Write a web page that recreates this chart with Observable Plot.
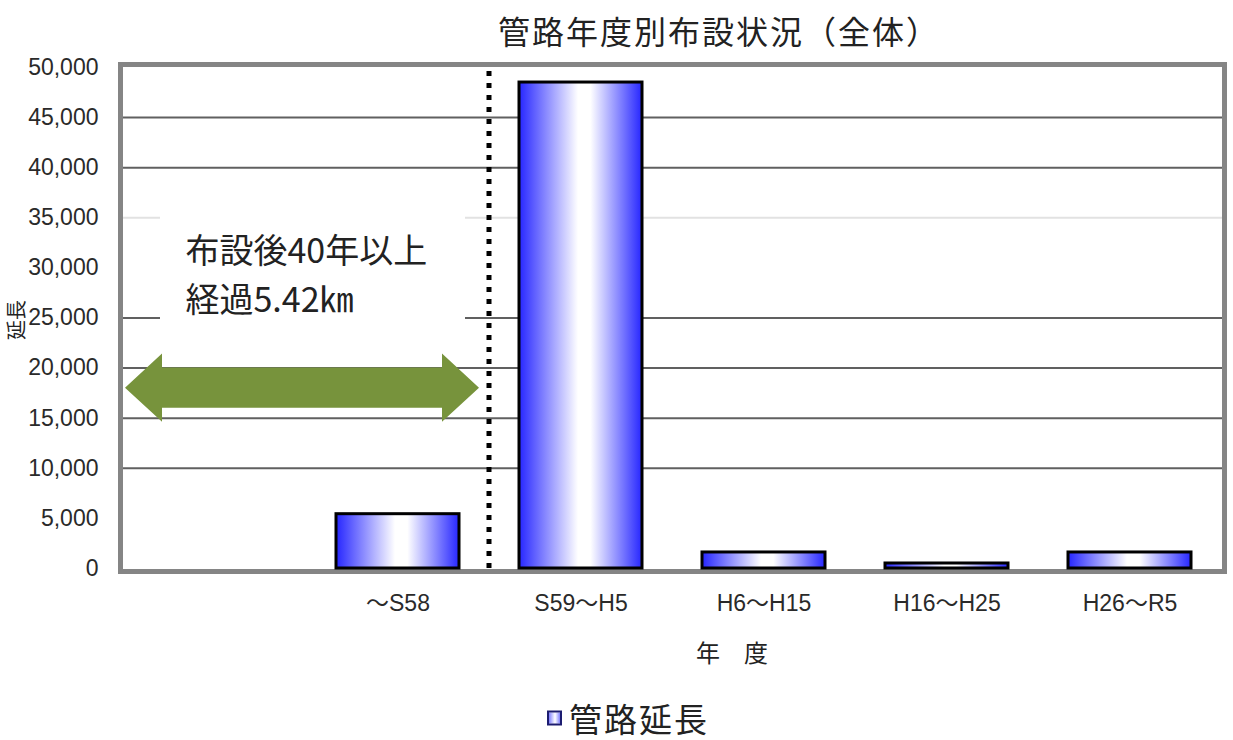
<!DOCTYPE html>
<html><head><meta charset="utf-8">
<script src="https://cdn.jsdelivr.net/npm/d3@7"></script>
<script src="https://cdn.jsdelivr.net/npm/@observablehq/plot@0.6"></script>
<style>
body{margin:0;background:#fff;}
#wrap{position:relative;width:1233px;height:740px;overflow:hidden;font-family:"Noto Sans CJK JP","Noto Sans",sans-serif;color:#222;}
#chart{position:absolute;left:0;top:0;}
.t{position:absolute;white-space:nowrap;transform:translate(-50%,-50%);line-height:1;}
#title{left:719px;top:30px;font-size:32px;letter-spacing:2px;}
#xlab{left:732px;top:652px;font-size:24px;}
#ylab{left:16px;top:320px;font-size:20px;transform:translate(-50%,-50%) rotate(-90deg);}
#legend{left:547px;top:718px;transform:translate(0,-50%);font-size:33px;letter-spacing:2px;display:flex;align-items:center;}
#legend .sw{display:inline-block;width:11px;height:11px;border:2px solid #1c1c70;margin-right:7px;background:linear-gradient(90deg,#8080ff,#ffffff 55%,#8080ff);}
</style></head><body>
<div id="wrap">
<div id="chart"></div>
<div class="t" id="title">管路年度別布設状況（全体）</div>
<div class="t" id="xlab">年　度</div>
<div class="t" id="ylab">延長</div>
<div class="t" id="legend"><span class="sw"></span>管路延長</div>
</div>
<script>
// ---- data ----
const categories = ["", "～S58", "S59～H5", "H6～H15", "H16～H25", "H26～R5"];
const barCategories = ["～S58", "S59～H5", "H6～H15", "H16～H25", "H26～R5"];
const lengths = [5420, 48500, 1600, 500, 1600];
const yTicks = [0, 5000, 10000, 15000, 20000, 25000, 30000, 35000, 40000, 45000, 50000];
const gridSolid = [10000, 15000, 20000, 25000, 40000, 45000];
const gridFaint = [35000];
const dividerBefore = "S59～H5";
const annotationLines = ["布設後40年以上", "経過5.42㎞"];
const annotationY = 29600;
const arrowY = 18000, arrowShaftHalf = 2000, arrowHeadHalf = 3400;
const boxTop = 36200, boxBottom = 23300;

const bars = barCategories.map((c, i) => ({cat: c, value: lengths[i]}));

const W = 1233, H = 740;
const mL = 122, mR = 11, mT = 67, mB = 172;

function backdrop(index, scales) {
  const {x, y} = scales;
  const step = x.step();
  const left = x.range()[0];
  const boundary = x(dividerBefore) + x.bandwidth() / 2 - step / 2;
  const g = d3.create("svg:g");
  g.append("rect")
    .attr("x", left + 38).attr("width", boundary - 24 - (left + 38))
    .attr("y", y(boxTop)).attr("height", y(boxBottom) - y(boxTop))
    .attr("fill", "#fff");
  const x0 = left + 3, x1 = boundary - 10, head = 37;
  const yc = y(arrowY), ys1 = y(arrowY + arrowShaftHalf), ys2 = y(arrowY - arrowShaftHalf);
  const yh1 = y(arrowY + arrowHeadHalf), yh2 = y(arrowY - arrowHeadHalf);
  const pts = [[x0, yc], [x0 + head, yh1], [x0 + head, ys1], [x1 - head, ys1], [x1 - head, yh1],
               [x1, yc], [x1 - head, yh2], [x1 - head, ys2], [x0 + head, ys2], [x0 + head, yh2]];
  g.append("polygon").attr("points", pts.map(p => p.join(",")).join(" ")).attr("fill", "#77933c");
  return g.node();
}

function divider(index, scales) {
  const {x, y} = scales;
  const boundary = x(dividerBefore) + x.bandwidth() / 2 - x.step() / 2;
  const g = d3.create("svg:g");
  g.append("line")
    .attr("x1", boundary).attr("x2", boundary)
    .attr("y1", y(50000) + 4).attr("y2", y(0))
    .attr("stroke", "#000").attr("stroke-width", 5).attr("stroke-dasharray", "5 7");
  return g.node();
}

const svg = Plot.plot({
  width: W, height: H,
  marginLeft: mL, marginRight: mR, marginTop: mT, marginBottom: mB,
  style: {fontFamily: "'Liberation Sans','Noto Sans CJK JP',sans-serif", fontSize: "23px", color: "#2a2a2a", background: "transparent"},
  x: {domain: categories, paddingInner: 0.33, paddingOuter: 0.165, tickSize: 0, tickPadding: 26, label: null},
  y: {domain: [0, 50000], ticks: yTicks, tickFormat: d3.format(","), tickSize: 0, tickPadding: 24, label: null},
  marks: [
    Plot.ruleY(gridSolid, {stroke: "#606060", strokeWidth: 2}),
    Plot.ruleY(gridFaint, {stroke: "#e2e2e2", strokeWidth: 2}),
    backdrop,
    Plot.text([annotationLines.join("\n")], {frameAnchor: "left", dx: 63, y: () => annotationY, text: d => d,
      textAnchor: "start", lineHeight: 1.45, fontSize: 34, fill: "#222",
      fontFamily: "'Noto Sans CJK JP',sans-serif"}),
    Plot.frame({stroke: "#858585", strokeWidth: 5, insetLeft: -2, insetRight: -2, insetTop: -3, insetBottom: -3}),
    Plot.barY(bars, {x: "cat", y: "value", fill: "url(#barGrad)", stroke: "#000", strokeWidth: 3}),
    divider
  ]
});

const defs = d3.select(svg).insert("defs", ":first-child");
const grad = defs.append("linearGradient").attr("id", "barGrad").attr("x1", "0").attr("x2", "1").attr("y1", "0").attr("y2", "0");
[["0%", "#2626ff"], ["48%", "#ffffff"], ["58%", "#ffffff"], ["100%", "#2626ff"]].forEach(([o, c]) =>
  grad.append("stop").attr("offset", o).attr("stop-color", c));

document.getElementById("chart").appendChild(svg);
</script>
</body></html>
